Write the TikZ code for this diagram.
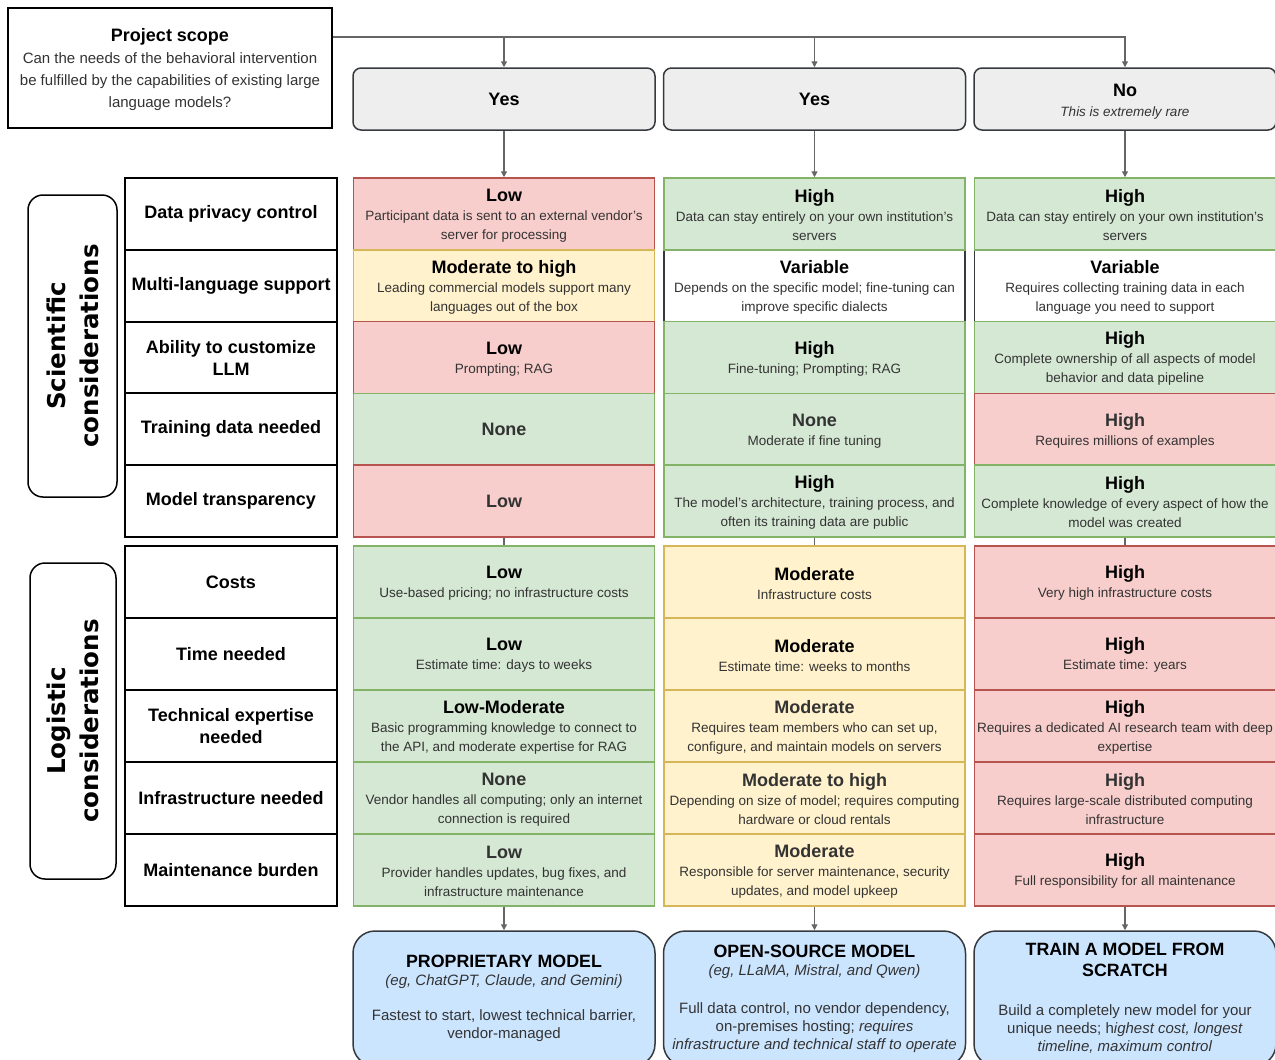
\documentclass[tikz,border=0pt]{standalone}
\usepackage{fontspec}
\setmainfont{Liberation Sans}
\newfontfamily\sidefont{DejaVu Sans}
\usetikzlibrary{arrows.meta}

\definecolor{redfill}{HTML}{F8CECC}
\definecolor{redline}{HTML}{B85450}
\definecolor{greenfill}{HTML}{D5E8D4}
\definecolor{greenline}{HTML}{82B366}
\definecolor{yellowfill}{HTML}{FFF2CC}
\definecolor{yellowline}{HTML}{D6B656}
\definecolor{grayfill}{HTML}{EEEEEE}
\definecolor{darkline}{HTML}{36393D}
\definecolor{bluefill}{HTML}{CCE5FF}
\definecolor{connline}{HTML}{666666}
\definecolor{bodytext}{HTML}{333333}

% heading line on top of a described cell (strut keeps the block a bit lower)
\newcommand\hd[1]{{\fontsize{18}{19}\selectfont\bfseries\color{black}\rule{0pt}{15.5pt}#1}}
% same heading in the softer text colour
\newcommand\hdg[1]{{\fontsize{18}{19}\selectfont\bfseries\color{bodytext}\rule{0pt}{15.5pt}#1}}
% heading standing alone in a cell
\newcommand\hdonly[1]{{\fontsize{18}{19}\selectfont\bfseries\color{bodytext}#1}}
% title line of an outcome box
\newcommand\ttl[1]{{\fontsize{17.8}{21}\selectfont\bfseries\color{black}#1}}

\begin{document}
\begin{tikzpicture}[x=1pt,y=-1pt,
  cellbase/.style={draw, line width=1.5pt, minimum width=301pt, inner sep=0pt,
    align=center, font=\fontsize{13.5}{19}\selectfont, text=bodytext},
  sci/.style={minimum height=71.8pt},
  logi/.style={minimum height=72pt},
  redcell/.style={cellbase, fill=redfill, draw=redline},
  greencell/.style={cellbase, fill=greenfill, draw=greenline},
  yellowcell/.style={cellbase, fill=yellowfill, draw=yellowline},
  whitecell/.style={cellbase, fill=white, draw=darkline},
  labcell/.style={draw=black, line width=2pt, fill=white, minimum width=212pt,
    inner sep=0pt, align=center, font=\fontsize{18}{22}\selectfont\bfseries},
  sidebox/.style={draw=black, line width=1.5pt, fill=white, rounded corners=15pt,
    rotate=90, align=center, inner sep=0pt,
    font=\sidefont\bfseries\fontsize{24.5}{33}\selectfont},
  choice/.style={draw=darkline, fill=grayfill, line width=1.5pt, rounded corners=8pt,
    minimum width=302pt, minimum height=62pt, inner sep=0pt, align=center,
    font=\fontsize{13.5}{20}\selectfont},
  result/.style={draw=darkline, fill=bluefill, line width=1.5pt, rounded corners=22pt,
    minimum width=302pt, minimum height=135pt, inner sep=0pt, align=center,
    font=\fontsize{15}{18}\selectfont, text=bodytext},
  conn/.style={draw=connline, line width=1.3pt},
  arr/.style={conn, -{Triangle[length=6pt,width=6pt]}}
]
\useasboundingbox (0,0) rectangle (1275,1060);

% ---- question and answers ----
\node[draw=black, line width=1.5pt, fill=white, minimum width=324pt, minimum height=120pt,
  inner sep=0pt, align=center, font=\fontsize{15}{22}\selectfont, text=bodytext]
  (proj) at (170,68)
  {{\fontsize{18}{22}\selectfont\bfseries\color{black}\rule{0pt}{16pt}Project scope}\\
   Can the needs of the behavioral intervention\\
   be fulfilled by the capabilities of existing large\\
   language models?};

\node[choice] (yesA) at (504,99) {\hdonly{\color{black}Yes}};
\node[choice] (yesB) at (814.5,99) {\hdonly{\color{black}Yes}};
\node[choice] (yesC) at (1125,99)
  {{\fontsize{18}{19}\selectfont\bfseries\rule{0pt}{17pt}No}\\{\itshape\color{bodytext}This is extremely rare}};

\coordinate (busA) at (504,37);
\coordinate (busB) at (814.5,37);
\draw[arr] ([yshift=31pt]proj.east) -| (yesC);
\draw[arr] (busA) -- (yesA);
\draw[arr] (busB) -- (yesB);

% ---- side group labels ----
\node[sidebox, minimum width=302pt, minimum height=89pt] (scig) at (72.5,346)
  {Scientific\\considerations};
\node[sidebox, minimum width=316pt, minimum height=86pt] (logg) at (73,721)
  {Logistic\\considerations};

% ---- criterion labels ----
\node[labcell, sci]  (l1)  at (231,213.9) {Data privacy control};
\node[labcell, sci]  (l2)  at (231,285.7) {Multi-language support};
\node[labcell, sci]  (l3)  at (231,357.5) {Ability to customize\\LLM};
\node[labcell, sci]  (l4)  at (231,429.3) {Training data needed};
\node[labcell, sci]  (l5)  at (231,501.1) {Model transparency};
\node[labcell, logi] (l6)  at (231,582)   {Costs};
\node[labcell, logi] (l7)  at (231,654)   {Time needed};
\node[labcell, logi] (l8)  at (231,726)   {Technical expertise\\needed};
\node[labcell, logi] (l9)  at (231,798)   {Infrastructure needed};
\node[labcell, logi] (l10) at (231,870)   {Maintenance burden};

% ---- scientific considerations ----
\node[whitecell, sci] (r2b) at (814.5,285.7)
  {\hd{Variable}\\Depends on the specific model; fine-tuning can\\improve specific dialects};
\node[whitecell, sci] (r2c) at (1125,285.7)
  {\hd{Variable}\\Requires collecting training data in each\\language you need to support};

\node[redcell, sci] (r1a) at (504,213.9)
  {\hd{Low}\\Participant data is sent to an external vendor's\\server for processing};
\node[greencell, sci] (r1b) at (814.5,213.9)
  {\hd{High}\\Data can stay entirely on your own institution's\\servers};
\node[greencell, sci] (r1c) at (1125,213.9)
  {\hd{High}\\Data can stay entirely on your own institution's\\servers};

\node[yellowcell, sci] (r2a) at (504,285.7)
  {\hd{Moderate to high}\\Leading commercial models support many\\languages out of the box};

\node[redcell, sci] (r3a) at (504,357.5) {\hd{Low}\\Prompting; RAG};
\node[greencell, sci] (r3b) at (814.5,357.5) {\hd{High}\\Fine-tuning; Prompting; RAG};
\node[greencell, sci] (r3c) at (1125,357.5)
  {\hd{High}\\Complete ownership of all aspects of model\\behavior and data pipeline};

\node[greencell, sci] (r4a) at (504,429.3) {\hdonly{None}};
\node[greencell, sci] (r4b) at (814.5,429.3) {\hdg{None}\\Moderate if fine tuning};
\node[redcell, sci] (r4c) at (1125,429.3) {\hdg{High}\\Requires millions of examples};

\node[redcell, sci] (r5a) at (504,501.1) {\hdonly{Low}};
\node[greencell, sci] (r5b) at (814.5,501.1)
  {\hd{High}\\The model's architecture, training process, and\\often its training data are public};
\node[greencell, sci] (r5c) at (1125,501.1)
  {\hd{High}\\Complete knowledge of every aspect of how the\\model was created};

% ---- logistic considerations ----
\node[greencell, logi] (r6a) at (504,582) {\hd{Low}\\Use-based pricing; no infrastructure costs};
\node[yellowcell, logi] (r6b) at (814.5,582) {\hd{Moderate}\\Infrastructure costs};
\node[redcell, logi] (r6c) at (1125,582) {\hd{High}\\Very high infrastructure costs};

\node[greencell, logi] (r7a) at (504,654) {\hd{Low}\\Estimate time: days to weeks};
\node[yellowcell, logi] (r7b) at (814.5,654) {\hd{Moderate}\\Estimate time: weeks to months};
\node[redcell, logi] (r7c) at (1125,654) {\hd{High}\\Estimate time: years};

\node[greencell, logi] (r8a) at (504,726)
  {\hd{Low-Moderate}\\Basic programming knowledge to connect to\\the API, and moderate expertise for RAG};
\node[yellowcell, logi] (r8b) at (814.5,726)
  {\hdg{Moderate}\\Requires team members who can set up,\\configure, and maintain models on servers};
\node[redcell, logi] (r8c) at (1125,726)
  {\hd{High}\\Requires a dedicated AI research team with deep\\expertise};

\node[greencell, logi] (r9a) at (504,798)
  {\hdg{None}\\Vendor handles all computing; only an internet\\connection is required};
\node[yellowcell, logi] (r9b) at (814.5,798)
  {\hdg{Moderate to high}\\Depending on size of model; requires computing\\hardware or cloud rentals};
\node[redcell, logi] (r9c) at (1125,798)
  {\hdg{High}\\Requires large-scale distributed computing\\infrastructure};

\node[greencell, logi] (r10a) at (504,870)
  {\hdg{Low}\\Provider handles updates, bug fixes, and\\infrastructure maintenance};
\node[yellowcell, logi] (r10b) at (814.5,870)
  {\hdg{Moderate}\\Responsible for server maintenance, security\\updates, and model upkeep};
\node[redcell, logi] (r10c) at (1125,870)
  {\hd{High}\\Full responsibility for all maintenance};

% ---- outcomes ----
\node[result] (resA) at (504,998.5)
  {\ttl{PROPRIETARY MODEL}\\
   {\itshape (eg, ChatGPT, Claude, and Gemini)}\\[17pt]
   Fastest to start, lowest technical barrier,\\vendor-managed};
\node[result] (resB) at (814.5,998.5)
  {\ttl{OPEN-SOURCE MODEL}\\
   {\itshape (eg, LLaMA, Mistral, and Qwen)}\\[20pt]
   Full data control, no vendor dependency,\\
   on-premises hosting; \textit{requires}\\
   \textit{infrastructure and technical staff to operate}};
\node[result] (resC) at (1125,998.5)
  {\ttl{TRAIN A MODEL FROM}\\[3pt]
   \ttl{SCRATCH}\\[21pt]
   Build a completely new model for your\\
   unique needs; h\textit{ighest cost, longest}\\
   \textit{timeline, maximum control}};

% ---- flow connectors ----
\draw[arr] (yesA) -- (r1a);
\draw[arr] (yesB) -- (r1b);
\draw[arr] (yesC) -- (r1c);
\draw[conn] (r5a) -- (r6a);
\draw[conn] (r5b) -- (r6b);
\draw[conn] (r5c) -- (r6c);
\draw[arr] (r10a) -- (resA);
\draw[arr] (r10b) -- (resB);
\draw[arr] (r10c) -- (resC);
\end{tikzpicture}
\end{document}
